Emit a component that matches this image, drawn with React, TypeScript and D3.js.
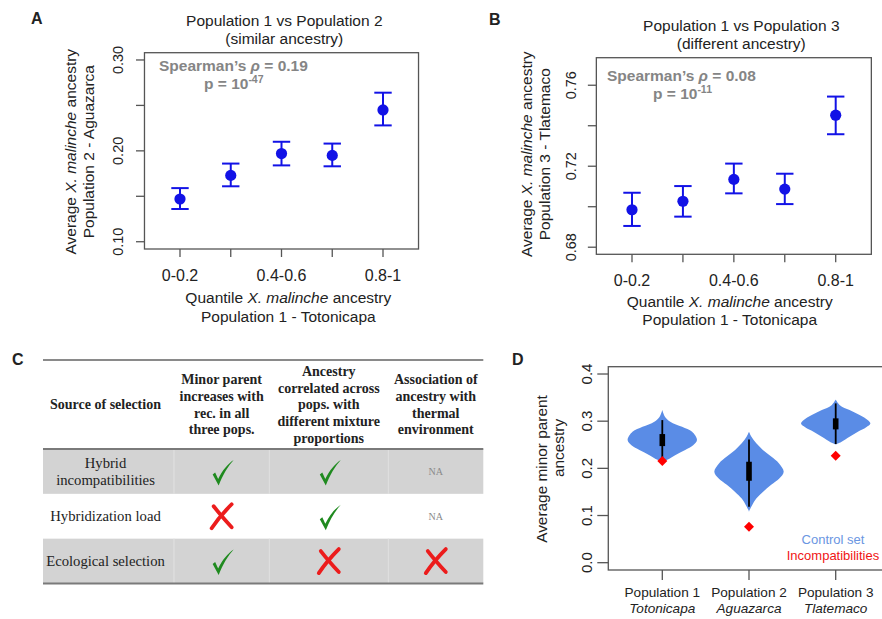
import React from "react";
import * as d3 from "d3";

// ---- panels A & B: mean ancestry by quantile, with error bars ----
const quantiles = ["0-0.2", "0.2-0.4", "0.4-0.6", "0.6-0.8", "0.8-1"];
const shownQuantiles = ["0-0.2", "0.4-0.6", "0.8-1"];

const pop2Mean = [0.147, 0.173, 0.197, 0.195, 0.245];
const pop2Upper = [0.159, 0.186, 0.21, 0.208, 0.264];
const pop2Lower = [0.136, 0.161, 0.184, 0.183, 0.228];
const pop2Ticks = [0.1, 0.15, 0.2, 0.25, 0.3];
const pop2TickLabels = ["0.10", "0.20", "0.30"];

const pop3Mean = [0.6985, 0.7027, 0.7135, 0.7087, 0.7452];
const pop3Upper = [0.7069, 0.7102, 0.7213, 0.7163, 0.7544];
const pop3Lower = [0.6905, 0.6951, 0.7066, 0.7013, 0.7358];
const pop3Ticks = [0.68, 0.7, 0.72, 0.74, 0.76];
const pop3TickLabels = ["0.68", "0.72", "0.76"];

// ---- panel C: summary table ----
const tableHeaders = [
  ["Source of selection"],
  ["Minor parent", "increases with", "rec. in all", "three pops."],
  ["Ancestry", "correlated across", "pops. with", "different mixture", "proportions"],
  ["Association of", "ancestry with", "thermal", "environment"],
];
const tableRowLabels = [["Hybrid", "incompatibilities"], ["Hybridization load"], ["Ecological selection"]];
const tableMarks = [
  ["check", "check", "NA"],
  ["cross", "check", "NA"],
  ["check", "cross", "cross"],
];

// ---- panel D: violins ----
const populations = ["Population 1", "Population 2", "Population 3"];
const locations = ["Totonicapa", "Aguazarca", "Tlatemaco"];
const violinValues = [
  [0.214, 0.218, 0.228, 0.239, 0.249, 0.26, 0.2775, 0.288, 0.299, 0.309, 0.3235],
  [0.108, 0.112, 0.122, 0.136, 0.15, 0.165, 0.179, 0.193, 0.211, 0.225, 0.239, 0.253, 0.267, 0.2775],
  [0.251, 0.256, 0.267, 0.2775, 0.287, 0.295, 0.302, 0.313, 0.3235, 0.334, 0.346],
];
const violinDensity = [
  [0, 0.14, 0.37, 0.66, 0.89, 1.0, 0.86, 0.57, 0.23, 0.08, 0],
  [0, 0.02, 0.09, 0.21, 0.4, 0.64, 0.88, 1.0, 0.86, 0.64, 0.4, 0.21, 0.07, 0],
  [0, 0.16, 0.4, 0.64, 0.88, 1.0, 0.93, 0.69, 0.4, 0.12, 0],
];
const whiskerLow = [0.221, 0.1186, 0.2515];
const whiskerHigh = [0.3023, 0.2614, 0.3377];
const boxLow = [0.2472, 0.1737, 0.2826];
const boxHigh = [0.2727, 0.214, 0.306];
const incompatMean = [0.2155, 0.0763, 0.2267];
const dTicks = [0, 0.1, 0.2, 0.3, 0.4];

const SANS = "'Liberation Sans', Arial, sans-serif";
const SERIF = "'Liberation Serif', 'Times New Roman', serif";
const INK = "#222";
const AXIS = "#555";
const BLUE = "#1212e6";

function ScatterPanel({ L, mean, lower, upper, ticks, tickLabels, rho, pexp, title2, ylab2 }) {
  const x = d3.scaleLinear().domain([1, 5]).range(L.xr);
  const y = d3.scaleLinear().domain(L.yDom).range([L.bottom, L.top]);
  const left = x(0.3), right = x(5.7);
  const fmt = d3.format(".2f");
  return (
    <g fontFamily={SANS} fill={INK}>
      <text x={L.letter[0]} y={L.letter[1]} fontSize={16} fontWeight="bold">{L.letter[2]}</text>
      <text x={L.titleX} y={L.titleY[0]} fontSize={15.5} textAnchor="middle">
        {title2[0]}
      </text>
      <text x={L.titleX} y={L.titleY[1]} fontSize={15.5} textAnchor="middle">
        {title2[1]}
      </text>
      <rect x={left} y={L.top} width={right - left} height={L.bottom - L.top} fill="none" stroke={AXIS} strokeWidth={1.3} />
      {ticks.map((t) => (
        <line key={t} x1={left - 8.5} x2={left} y1={y(t)} y2={y(t)} stroke={AXIS} strokeWidth={1.3} />
      ))}
      {ticks.filter((t) => tickLabels.includes(fmt(t))).map((t) => (
        <text key={t} transform={`translate(${L.ytickX},${y(t)}) rotate(-90)`} fontSize={14.5} textAnchor="middle">
          {fmt(t)}
        </text>
      ))}
      {quantiles.map((q, i) => (
        <line key={q} x1={x(i + 1)} x2={x(i + 1)} y1={L.bottom} y2={L.bottom + 8} stroke={AXIS} strokeWidth={1.3} />
      ))}
      {quantiles.map((q, i) =>
        shownQuantiles.includes(q) ? (
          <text key={q} x={x(i + 1)} y={L.xtickY} fontSize={16} textAnchor="middle">{q}</text>
        ) : null
      )}
      <text x={L.xlabX} y={L.xlabY[0]} fontSize={15.5} textAnchor="middle">
        {"Quantile "}<tspan fontStyle="italic">X. malinche</tspan>{" ancestry"}
      </text>
      <text x={L.xlabX} y={L.xlabY[1]} fontSize={15.5} textAnchor="middle">Population 1 - Totonicapa</text>
      <text transform={`translate(${L.ylabX[0]},${L.ylabY}) rotate(-90)`} fontSize={15.5} textAnchor="middle">
        {"Average "}<tspan fontStyle="italic">X. malinche</tspan>{" ancestry"}
      </text>
      <text transform={`translate(${L.ylabX[1]},${L.ylabY}) rotate(-90)`} fontSize={15.5} textAnchor="middle">{ylab2}</text>
      <text x={L.spear[0]} y={L.spear[1]} fontSize={15.5} fontWeight="bold" fill="#858585">
        {"Spearman\u2019s "}<tspan fontStyle="italic">{"\u03c1"}</tspan>{` = ${rho}`}
      </text>
      <text x={L.spear[2]} y={L.spear[3]} fontSize={15.5} fontWeight="bold" fill="#858585">
        {"p = 10"}<tspan dy={-6} fontSize={10.5}>{pexp}</tspan>
      </text>
      {mean.map((m, i) => {
        const cx = x(i + 1);
        return (
          <g key={i} stroke={BLUE} strokeWidth={2}>
            <line x1={cx} x2={cx} y1={y(lower[i])} y2={y(upper[i])} />
            <line x1={cx - 8.7} x2={cx + 8.7} y1={y(lower[i])} y2={y(lower[i])} />
            <line x1={cx - 8.7} x2={cx + 8.7} y1={y(upper[i])} y2={y(upper[i])} />
            <circle cx={cx} cy={y(m)} r={5.6} fill={BLUE} stroke="none" />
          </g>
        );
      })}
    </g>
  );
}

function Check({ cx, cy }) {
  const p = `M${cx - 10},${cy + 1.5} L${cx - 7.5},${cy - 0.5} L${cx - 4.5},${cy + 6} C${cx},${cy - 3} ${cx + 5},${cy - 9} ${cx + 11},${cy - 13} C${cx + 5.5},${cy - 7} ${cx},${cy + 2} ${cx - 4},${cy + 12.5} Z`;
  return <path d={p} fill="#1f8a1f" />;
}

function Cross({ cx, cy }) {
  return (
    <g stroke="#ec1c1c" strokeWidth={3.8} strokeLinecap="round" fill="none">
      <path d={`M${cx - 8},${cy - 10} Q${cx - 1},${cy - 1} ${cx + 10},${cy + 11}`} />
      <path d={`M${cx + 10},${cy - 12} Q${cx - 2},${cy} ${cx - 10},${cy + 12}`} />
    </g>
  );
}

function TablePanel() {
  const colEdges = [43, 174, 269.3, 388.3, 483.3];
  const rows = d3.scaleBand().domain(d3.range(tableRowLabels.length)).range([449, 583.5]);
  const colMid = (c) => (colEdges[c] + colEdges[c + 1]) / 2;
  const headMid = 404.5;
  return (
    <g fontFamily={SERIF} fill={INK}>
      <text x={12} y={365} fontSize={16} fontWeight="bold" fontFamily={SANS}>C</text>
      {tableRowLabels.map((_, r) =>
        r % 2 === 0 ? (
          <g key={r}>
            <rect x={colEdges[0]} y={rows(r)} width={colEdges[4] - colEdges[0]} height={rows.bandwidth()} fill="#d3d3d3" />
            {colEdges.slice(1, 4).map((e) => (
              <line key={e} x1={e} x2={e} y1={rows(r)} y2={rows(r) + rows.bandwidth()} stroke="#e2e2e2" strokeWidth={1} />
            ))}
          </g>
        ) : null
      )}
      <line x1={colEdges[0]} x2={colEdges[4]} y1={360} y2={360} stroke="#8a8a8a" strokeWidth={2} />
      <line x1={colEdges[0]} x2={colEdges[4]} y1={449} y2={449} stroke="#7a7a7a" strokeWidth={2} />
      <line x1={colEdges[0]} x2={colEdges[4]} y1={583.5} y2={583.5} stroke="#7a7a7a" strokeWidth={2} />
      {tableHeaders.map((lines, c) =>
        lines.map((t, k) => (
          <text key={`${c}-${k}`} x={colMid(c) + (c === 0 ? -3 : 0)} y={headMid + (k - (lines.length - 1) / 2) * 16.7} dy="0.35em"
            fontSize={14} fontWeight="bold" textAnchor="middle">{t}</text>
        ))
      )}
      {tableRowLabels.map((lines, r) =>
        lines.map((t, k) => (
          <text key={`${r}-${k}`} x={105.5} y={rows(r) + rows.bandwidth() / 2 + (k - (lines.length - 1) / 2) * 17.3} dy="0.33em"
            fontSize={14.7} textAnchor="middle">{t}</text>
        ))
      )}
      {tableMarks.map((row, r) =>
        row.map((m, c) => {
          const cx = colMid(c + 1);
          const cy = rows(r) + rows.bandwidth() / 2;
          if (m === "check") return <Check key={`${r}-${c}`} cx={cx + 1} cy={cy + 1.5} />;
          if (m === "cross") return <Cross key={`${r}-${c}`} cx={cx} cy={cy} />;
          return <text key={`${r}-${c}`} x={cx} y={cy} dy="0.35em" fontSize={10} fill="#8a8a8a" textAnchor="middle">NA</text>;
        })
      )}
    </g>
  );
}

function ViolinPanel() {
  const x = d3.scaleLinear().domain([1, 3]).range([662.3, 835.7]);
  const y = d3.scaleLinear().domain([-0.0155, 0.4155]).range([570, 366.7]);
  const left = x(0.377), right = x(3.623);
  const halfW = 0.4;
  return (
    <g fontFamily={SANS} fill={INK}>
      <text x={512} y={365} fontSize={16} fontWeight="bold">D</text>
      <rect x={left} y={y(0.4155)} width={right - left} height={y(-0.0155) - y(0.4155)} fill="none" stroke={AXIS} strokeWidth={1.3} />
      {dTicks.map((t) => (
        <g key={t}>
          <line x1={left - 11} x2={left} y1={y(t)} y2={y(t)} stroke={AXIS} strokeWidth={1.3} />
          <text transform={`translate(591.5,${y(t)}) rotate(-90)`} fontSize={15} textAnchor="middle">{d3.format(".1f")(t)}</text>
        </g>
      ))}
      <text transform={`translate(546.5,469) rotate(-90)`} fontSize={15.4} textAnchor="middle">Average minor parent</text>
      <text transform={`translate(563.5,448) rotate(-90)`} fontSize={15.4} textAnchor="middle">ancestry</text>
      {populations.map((p, i) => {
        const cx = x(i + 1);
        const pts = violinValues[i].map((v, k) => ({ v, d: violinDensity[i][k] }));
        const area = d3
          .area()
          .y((d) => y(d.v))
          .x0((d) => x(i + 1 - d.d * halfW))
          .x1((d) => x(i + 1 + d.d * halfW))
          .curve(d3.curveCatmullRom.alpha(0.5));
        const dm = y(incompatMean[i]);
        return (
          <g key={p}>
            <path d={area(pts)} fill="#5a8ce6" />
            <line x1={cx} x2={cx} y1={y(whiskerLow[i])} y2={y(whiskerHigh[i])} stroke="#000" strokeWidth={1.8} />
            <rect x={cx - 2.8} y={y(boxHigh[i])} width={5.6} height={y(boxLow[i]) - y(boxHigh[i])} fill="#000" />
            <path d={`M${cx},${dm - 5} L${cx + 5},${dm} L${cx},${dm + 5} L${cx - 5},${dm} Z`} fill="#f00" />
            <line x1={cx} x2={cx} y1={570} y2={580} stroke={AXIS} strokeWidth={1.3} />
            <text x={cx} y={596.5} fontSize={13.6} textAnchor="middle">{p}</text>
            <text x={cx} y={613} fontSize={13.6} fontStyle="italic" textAnchor="middle">{locations[i]}</text>
          </g>
        );
      })}
      <text x={833} y={544} fontSize={13} fill="#6a96e2" textAnchor="middle">Control set</text>
      <text x={833} y={559.5} fontSize={13} fill="#f01414" textAnchor="middle">Incompatibilities</text>
    </g>
  );
}

const layoutA = {
  xr: [180, 383], top: 52.7, bottom: 249, yDom: [0.092, 0.308],
  titleX: 284.3, titleY: [26, 44], ylabX: [75.5, 93.5], ylabY: 151.7, ytickX: 123,
  spear: [159, 71, 204, 89.3], xtickY: 281, xlabX: 288.3, xlabY: [302.7, 321.7], letter: [31, 24, "A"],
};
const layoutB = {
  xr: [632, 835.7], top: 57.7, bottom: 254.3, yDom: [0.6765, 0.7736],
  titleX: 741.3, titleY: [31, 49], ylabX: [531.5, 549.5], ylabY: 154.2, ytickX: 576,
  spear: [607, 80.7, 653, 99], xtickY: 286, xlabX: 729.7, xlabY: [307, 325], letter: [489, 25, "B"],
};

export default function App() {
  return (
    <svg width={882} height={619} style={{ position: "absolute", left: 0, top: 0, background: "#fff" }}>
      <rect width={882} height={619} fill="#fff" />
      <ScatterPanel L={layoutA} mean={pop2Mean} lower={pop2Lower} upper={pop2Upper} ticks={pop2Ticks}
        tickLabels={pop2TickLabels} rho="0.19" pexp="-47"
        title2={["Population 1 vs Population 2", "(similar ancestry)"]} ylab2="Population 2 -  Aguazarca" />
      <ScatterPanel L={layoutB} mean={pop3Mean} lower={pop3Lower} upper={pop3Upper} ticks={pop3Ticks}
        tickLabels={pop3TickLabels} rho="0.08" pexp="-11"
        title2={["Population 1 vs Population 3", "(different ancestry)"]} ylab2="Population 3 - Tlatemaco" />
      <TablePanel />
      <ViolinPanel />
    </svg>
  );
}
